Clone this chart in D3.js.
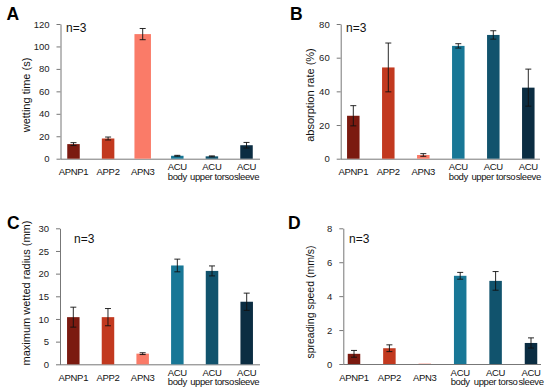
<!DOCTYPE html>
<html>
<head>
<meta charset="utf-8">
<script src="https://d3js.org/d3.v7.min.js"></script>
<style>
  body { margin: 0; background: #fff; }
  text { font-family: "Liberation Sans", Arial, sans-serif; }
</style>
</head>
<body>
<div id="chart"></div>
<script>
// categories (two label lines under each bar)
var labelTop = ["APNP1", "APP2", "APN3", "ACU", "ACU", "ACU"];
var labelBottom = ["", "", "", "body", "upper torso", "sleeve"];
var barColors = ["#7b1a10", "#c2391f", "#fa7b68", "#187796", "#11536d", "#0b2d42"];

// values (mean, error)
var wettingTime = [13, 18, 111, 2.6, 2.1, 12];
var wettingErr = [1.3, 1.3, 5, 0.4, 0.4, 2.5];
var absorption = [25.5, 54.2, 2.2, 67, 73.5, 42.2];
var absorptionErr = [6, 14.5, 0.8, 1.3, 2.5, 11];
var radius = [10.4, 10.4, 2.35, 21.8, 20.6, 13.8];
var radiusErr = [2.2, 1.9, 0.2, 1.4, 1.1, 1.9];
var speed = [0.6, 0.93, 0.02, 5.2, 4.9, 1.24];
var speedErr = [0.2, 0.2, 0, 0.2, 0.55, 0.3];

var ticksA = [0, 20, 40, 60, 80, 100, 120];
var ticksB = [0, 20, 40, 60, 80];
var ticksC = [0, 5, 10, 15, 20, 25, 30];
var ticksD = [0, 2, 4, 6, 8];

var svg = d3.select("#chart")
    .append("svg")
    .attr("width", 550)
    .attr("height", 389);

function drawPanel(p) {
    var g = svg.append("g");
    var rows = p.values.map(function (v, i) { return {v: v, e: p.errors[i], i: i}; });

    var y = d3.scaleLinear()
        .domain([0, p.ticks[p.ticks.length - 1]])
        .range([p.y0, p.y1]);

    var x = d3.scalePoint()
        .domain(d3.range(labelTop.length))
        .range([p.first, p.last]);

    // y axis
    var yAxis = g.append("g")
        .attr("transform", "translate(" + p.ax + ",0)")
        .call(d3.axisLeft(y).tickValues(p.ticks).tickSize(4).tickSizeOuter(0).tickPadding(7));
    yAxis.select(".domain").attr("stroke", "#777");
    yAxis.selectAll(".tick line").attr("stroke", "#777");
    yAxis.selectAll(".tick text")
        .attr("fill", "#222")
        .style("font-size", "9.5px");

    // x axis line (no ticks)
    g.append("line")
        .attr("x1", p.ax).attr("x2", p.xend)
        .attr("y1", p.y0 + 0.5).attr("y2", p.y0 + 0.5)
        .attr("stroke", "#777");

    // bars
    g.selectAll("rect.bar")
        .data(rows)
        .enter()
        .append("rect")
        .attr("class", "bar")
        .attr("x", function (d) { var w = d.i === p.wide ? 16.5 : 12.5; return x(d.i) - w / 2; })
        .attr("width", function (d) { return d.i === p.wide ? 16.5 : 12.5; })
        .attr("y", function (d) { return y(d.v); })
        .attr("height", function (d) { return p.y0 - y(d.v); })
        .attr("fill", function (d) { return barColors[d.i]; });

    // error bars
    g.selectAll("g.err")
        .data(rows.filter(function (d) { return d.e > 0; }))
        .enter()
        .append("g")
        .attr("class", "err")
        .attr("stroke", "#111")
        .attr("stroke-width", 0.9)
        .each(function (d) {
            var cx = x(d.i);
            var s = d3.select(this);
            s.append("line").attr("x1", cx).attr("x2", cx).attr("y1", y(d.v + d.e)).attr("y2", y(d.v - d.e));
            s.append("line").attr("x1", cx - 3).attr("x2", cx + 3).attr("y1", y(d.v + d.e)).attr("y2", y(d.v + d.e));
            s.append("line").attr("x1", cx - 3).attr("x2", cx + 3).attr("y1", y(d.v - d.e)).attr("y2", y(d.v - d.e));
        });

    // category labels, first line
    g.selectAll("text.cat1")
        .data(labelTop)
        .enter()
        .append("text")
        .attr("class", "cat1")
        .attr("x", function (d, i) { return x(i); })
        .attr("y", function (d, i) { return labelBottom[i] === "" ? p.y0 + 16.5 : p.y0 + 11.5; })
        .attr("text-anchor", "middle")
        .attr("fill", "#111")
        .style("font-size", "9.5px")
        .style("letter-spacing", "-0.3px")
        .text(function (d) { return d; });

    // second line (ACU samples)
    g.selectAll("text.cat2")
        .data(labelBottom)
        .enter()
        .append("text")
        .attr("class", "cat2")
        .attr("x", function (d, i) { return x(i); })
        .attr("y", p.y0 + 21)
        .attr("text-anchor", "middle")
        .attr("fill", "#111")
        .style("font-size", "9.5px")
        .style("letter-spacing", "-0.4px")
        .text(function (d) { return d; });

    // axis title
    g.append("text")
        .attr("transform", "translate(" + p.titleX + "," + p.titleY + ") rotate(-90)")
        .attr("text-anchor", "middle")
        .attr("fill", "#111")
        .style("font-size", p.titleSize + "px")
        .text(p.title);

    // n=3 note
    g.append("text")
        .attr("x", p.nx).attr("y", p.ny)
        .attr("fill", "#111")
        .style("font-size", "12px")
        .text("n=3");

    // panel letter
    g.append("text")
        .attr("x", p.lx).attr("y", p.ly)
        .attr("fill", "#000")
        .style("font-size", "17.5px")
        .style("font-weight", "bold")
        .text(p.letter);
}

drawPanel({letter: "A", lx: 6.5, ly: 20, values: wettingTime, errors: wettingErr, ticks: ticksA,
    ax: 60.5, y0: 158.7, y1: 24, first: 73.5, last: 246.5, xend: 260, wide: 2,
    title: "wetting time (s)", titleX: 29.5, titleY: 95, titleSize: 11, nx: 66, ny: 31.5});
drawPanel({letter: "B", lx: 290, ly: 20, values: absorption, errors: absorptionErr, ticks: ticksB,
    ax: 340.7, y0: 158.7, y1: 24, first: 353.3, last: 528.3, xend: 540, wide: -1,
    title: "absorption rate (%)", titleX: 313.5, titleY: 95, titleSize: 11, nx: 346, ny: 31.5});
drawPanel({letter: "C", lx: 7, ly: 228.5, values: radius, errors: radiusErr, ticks: ticksC,
    ax: 60, y0: 364.3, y1: 228.3, first: 73.3, last: 246.7, xend: 260, wide: -1,
    title: "maximum wetted radius (mm)", titleX: 29.5, titleY: 293, titleSize: 11, nx: 74, ny: 243});
drawPanel({letter: "D", lx: 288, ly: 228.5, values: speed, errors: speedErr, ticks: ticksD,
    ax: 343.3, y0: 364, y1: 228.3, first: 354, last: 531, xend: 541, wide: -1,
    title: "spreading speed (mm/s)", titleX: 314, titleY: 302, titleSize: 10.5, nx: 349, ny: 243});
</script>
</body>
</html>
